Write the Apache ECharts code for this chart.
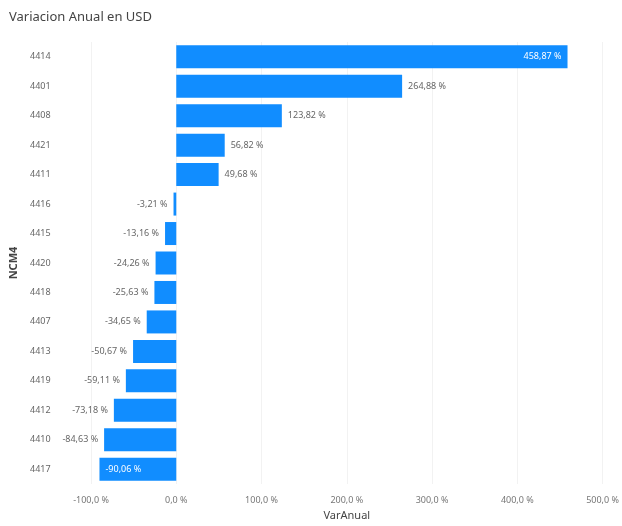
<!DOCTYPE html>
<html>
<head>
<meta charset="utf-8">
<script src="https://cdn.jsdelivr.net/npm/echarts@6/dist/echarts.min.js"></script>
<style>html,body{margin:0;padding:0;background:#fff;}#c{width:622px;height:526px;}</style>
</head>
<body>
<div id="c"></div>
<script>
const categories = ['4414','4401','4408','4421','4411','4416','4415','4420','4418','4407','4413','4419','4412','4410','4417'];
const values = [458.87, 264.88, 123.82, 56.82, 49.68, -3.21, -13.16, -24.26, -25.63, -34.65, -50.67, -59.11, -73.18, -84.63, -90.06];
const insideLabels = ['4414', '4417'];

function fmt(v, d) { return v.toFixed(d).replace('.', ',') + ' %'; }

const seriesData = values.map((v, i) => {
  const inside = insideLabels.indexOf(categories[i]) >= 0;
  let pos = v >= 0 ? 'right' : 'left';
  if (inside) pos = v >= 0 ? 'insideRight' : 'insideLeft';
  return {
    value: v,
    label: { position: pos, color: inside ? '#ffffff' : '#666666' }
  };
});

const chart = echarts.init(document.getElementById('c'), null, { renderer: 'canvas' });
chart.setOption({
  animation: false,
  backgroundColor: '#ffffff',
  textStyle: { fontFamily: 'Noto Sans' },
  title: {
    text: 'Variacion Anual en USD',
    left: 4, top: 6,
    textStyle: { fontSize: 13, fontWeight: 'normal', color: '#444', fontFamily: 'Noto Sans' }
  },
  grid: { left: 89, right: 16, top: 42, bottom: 40, containLabel: false },
  xAxis: {
    type: 'value',
    min: -100, max: 500, interval: 100,
    name: 'VarAnual',
    nameLocation: 'middle',
    nameGap: 26,
    nameTextStyle: { fontSize: 11, color: '#444', fontFamily: 'Noto Sans' },
    axisLine: { show: false },
    axisTick: { show: false },
    axisLabel: { fontSize: 9, color: '#777', margin: 12, formatter: v => fmt(v, 1) },
    splitLine: { show: true, lineStyle: { color: '#f2f2f2', width: 1 } }
  },
  yAxis: {
    type: 'category',
    inverse: true,
    data: categories,
    name: 'NCM4',
    nameLocation: 'middle',
    nameGap: 72,
    nameRotate: 90,
    nameTextStyle: { fontSize: 11, fontWeight: 'bold', color: '#444', fontFamily: 'Noto Sans' },
    axisLine: { show: false, onZero: false },
    axisTick: { show: false },
    axisLabel: { fontSize: 9, color: '#666', align: 'left', margin: 61 }
  },
  series: [{
    type: 'bar',
    data: seriesData,
    barWidth: 23,
    itemStyle: { color: '#118DFF' },
    label: {
      show: true,
      fontSize: 9,
      distance: 6,
      formatter: p => fmt(p.value, 2)
    }
  }]
});
</script>
</body>
</html>
